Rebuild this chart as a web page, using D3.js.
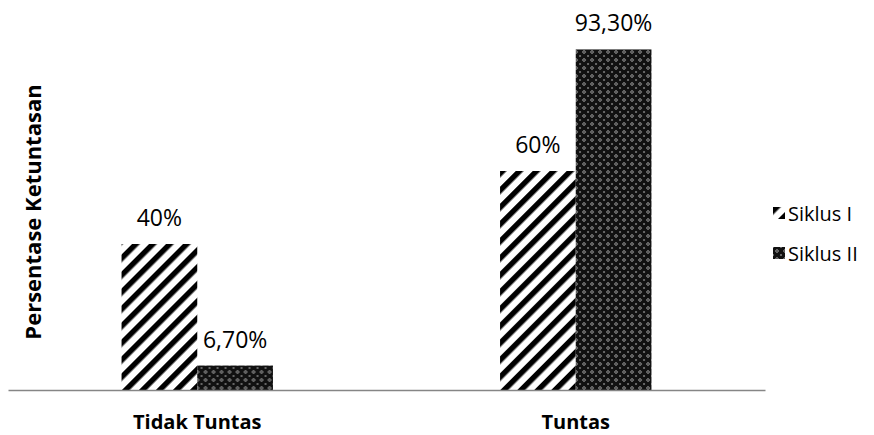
<!DOCTYPE html>
<html>
<head>
<meta charset="utf-8">
<script src="https://cdn.jsdelivr.net/npm/d3@7"></script>
<style>
  body { margin: 0; background: #fff; }
  svg { font-family: 'Open Sans', sans-serif; }
</style>
</head>
<body>
<div id="chart"></div>
<script>
const categories = ['Tidak Tuntas', 'Tuntas']
const seriesNames = ['Siklus I', 'Siklus II']
const siklus1 = [40, 60]
const siklus2 = [6.7, 93.3]
const valueLabels = [['40%', '6,70%'], ['60%', '93,30%']]

const width = 874, height = 435
const svg = d3.select('#chart').append('svg')
  .attr('width', width)
  .attr('height', height)

const defs = svg.append('defs')
// wide upward diagonal
const stripe = defs.append('pattern')
  .attr('id', 'stripe')
  .attr('patternUnits', 'userSpaceOnUse')
  .attr('width', 12).attr('height', 12)
  .attr('patternTransform', 'rotate(45)')
stripe.append('rect').attr('width', 12).attr('height', 12).attr('fill', '#fff')
stripe.append('rect').attr('width', 5.5).attr('height', 12).attr('fill', '#000')

// confetti-like checker
const check = defs.append('pattern')
  .attr('id', 'check')
  .attr('patternUnits', 'userSpaceOnUse')
  .attr('width', 8).attr('height', 8)
check.append('rect').attr('width', 8).attr('height', 8).attr('fill', '#111')
check.append('path')
  .attr('d', 'M4,2 L6,4 L4,6 L2,4 Z')
  .attr('fill', '#b8b8b8')
check.append('path')
  .attr('d', 'M0,0 L1,0 L0,1 Z M8,0 L7,0 L8,1 Z M0,8 L1,8 L0,7 Z M8,8 L7,8 L8,7 Z')
  .attr('fill', '#b8b8b8')
check.append('rect').attr('x', 3.3).attr('y', 3.3).attr('width', 1.4).attr('height', 1.4).attr('fill', '#000')

const fills = ['url(#stripe)', 'url(#check)']

const x0 = d3.scaleBand()
  .domain(categories)
  .range([8, 765])
  .paddingInner(0.6)
  .paddingOuter(0.3)
const x1 = d3.scaleBand()
  .domain(seriesNames)
  .range([0, x0.bandwidth()])
const y = d3.scaleLinear()
  .domain([0, 100])
  .range([390, 25])

const data = categories.map((c, i) => ({
  cat: c,
  values: [siklus1[i], siklus2[i]].map((v, j) => ({ s: seriesNames[j], v: v, label: valueLabels[i][j], j: j }))
}))

const groups = svg.selectAll('.grp').data(data)
  .enter().append('g')
  .attr('class', 'grp')
  .attr('transform', d => `translate(${x0(d.cat)},0)`)

groups.selectAll('rect').data(d => d.values)
  .enter().append('rect')
  .attr('x', d => x1(d.s))
  .attr('y', d => y(d.v))
  .attr('width', x1.bandwidth())
  .attr('height', d => y(0) - y(d.v))
  .attr('fill', d => fills[d.j])

groups.selectAll('.lbl').data(d => d.values)
  .enter().append('text')
  .attr('class', 'lbl')
  .attr('x', d => x1(d.s) + x1.bandwidth() / 2)
  .attr('y', d => y(d.v) - 18)
  .attr('text-anchor', 'middle')
  .style('font-size', '23px')
  .style('fill', '#000')
  .text(d => d.label)

// baseline
const xAxis = d3.axisBottom(x0).tickSize(0).tickPadding(25)
const ax = svg.append('g')
  .attr('transform', `translate(0,${y(0)})`)
  .call(xAxis)
ax.select('.domain').attr('stroke', '#868686').attr('stroke-width', 1.5)
ax.selectAll('text')
  .style('font-size', '20px')
  .style('font-weight', 'bold')
  .style('font-family', "'Open Sans', sans-serif")
  .attr('fill', '#000')

// y title
svg.append('text')
  .attr('transform', 'translate(41,212) rotate(-90)')
  .attr('text-anchor', 'middle')
  .style('font-size', '22px')
  .style('font-weight', 'bold')
  .text('Persentase Ketuntasan')

// legend
const legend = svg.selectAll('.leg').data(seriesNames)
  .enter().append('g')
  .attr('class', 'leg')
  .attr('transform', (d, i) => `translate(773,${207 + i * 40})`)
legend.append('rect')
  .attr('width', 12).attr('height', 12)
  .attr('fill', (d, i) => fills[i])
legend.append('text')
  .attr('x', 15)
  .attr('y', 14)
  .style('font-size', '20px')
  .text(d => d)
</script>
</body>
</html>
